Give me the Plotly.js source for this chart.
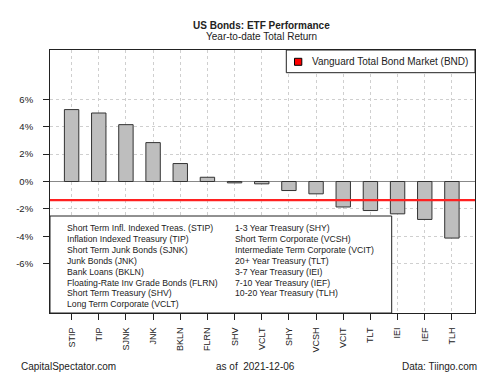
<!DOCTYPE html>
<html>
<head>
<meta charset="utf-8">
<script src="https://cdn.plot.ly/plotly-3.0.1.min.js"></script>
<style>html,body{margin:0;padding:0;background:#fff;}#chart{width:500px;height:375px;}</style>
</head>
<body>
<div id="chart"></div>
<script>
var tickers = ["STIP","TIP","SJNK","JNK","BKLN","FLRN","SHV","VCLT","SHY","VCSH","VCIT","TLT","IEI","IEF","TLH"];
var returns = [5.25, 5.00, 4.15, 2.84, 1.31, 0.31, -0.10, -0.17, -0.66, -0.90, -1.86, -2.12, -2.36, -2.77, -4.13];
var bndName = "Vanguard Total Bond Market (BND)";
var bndReturn = -1.36;
var namesCol1 = ["Short Term Infl. Indexed Treas. (STIP)","Inflation Indexed Treasury (TIP)","Short Term Junk Bonds (SJNK)","Junk Bonds (JNK)","Bank Loans (BKLN)","Floating-Rate Inv Grade Bonds (FLRN)","Short Term Treasury (SHV)","Long Term Corporate (VCLT)"];
var namesCol2 = ["1-3 Year Treasury (SHY)","Short Term Corporate (VCSH)","Intermediate Term Corporate (VCIT)","20+ Year Treasury (TLT)","3-7 Year Treasury (IEI)","7-10 Year Treasury (IEF)","10-20 Year Treasury (TLH)"];
var yTickVals = [-6,-4,-2,0,2,4,6];
var yTickText = ["-6%","-4%","-2%","0%","2%","4%","6%"];
var titleText = "US Bonds: ETF Performance";
var subtitleText = "Year-to-date Total Return";
var footLeft = "CapitalSpectator.com";
var footMid = "as of  2021-12-06";
var footRight = "Data: Tiingo.com";

var FONT = "Liberation Sans, Arial, sans-serif";
var TXT = "#222";
var W = 500, H = 375, ML = 50, MR = 25, MT = 50, MB = 62;
var PW = W - ML - MR, PH = H - MT - MB;
function px(x){ return (x - ML) / PW; }
function py(y){ return (H - MB - y) / PH; }

var traces = [{
  type: "bar", x: tickers, y: returns, width: 0.53,
  marker: {color: "#BEBEBE", line: {color: "#333", width: 1}},
  showlegend: false, hoverinfo: "x+y"
}];

var shapes = [
  {type: "line", xref: "paper", yref: "y", x0: 0, x1: 1, y0: bndReturn, y1: bndReturn,
   line: {color: "#FF2020", width: 2.2}, layer: "above"},
  {type: "rect", xref: "paper", yref: "paper", x0: px(286.3), x1: 1, y0: py(72.7), y1: 1,
   fillcolor: "#fff", line: {color: TXT, width: 1}, layer: "above"},
  {type: "rect", xref: "paper", yref: "paper", x0: px(294.5), x1: px(301.8), y0: py(65.3), y1: py(58.3),
   fillcolor: "#FF0000", line: {color: "#000", width: 1}, layer: "above"},
  {type: "rect", xref: "paper", yref: "paper", x0: 0, x1: px(391.7), y0: 0, y1: py(216),
   fillcolor: "#fff", line: {color: TXT, width: 1}, layer: "above"}
];

var annotations = [
  {text: "<b>" + titleText + "</b>", xref: "paper", yref: "paper", x: px(261), y: py(25.3), xanchor: "center", yanchor: "middle", showarrow: false, font: {family: FONT, size: 10, color: TXT}},
  {text: subtitleText, xref: "paper", yref: "paper", x: px(261), y: py(36.7), xanchor: "center", yanchor: "middle", showarrow: false, font: {family: FONT, size: 10, color: TXT}},
  {text: bndName, xref: "paper", yref: "paper", x: px(310), y: py(62), xanchor: "left", yanchor: "middle", showarrow: false, font: {family: FONT, size: 10, color: TXT}},
  {text: footLeft, xref: "paper", yref: "paper", x: px(19), y: py(366.7), xanchor: "left", yanchor: "middle", showarrow: false, font: {family: FONT, size: 10, color: TXT}},
  {text: footMid, xref: "paper", yref: "paper", x: px(214), y: py(366.7), xanchor: "left", yanchor: "middle", showarrow: false, font: {family: FONT, size: 10, color: TXT}},
  {text: footRight, xref: "paper", yref: "paper", x: px(478.5), y: py(366.7), xanchor: "right", yanchor: "middle", showarrow: false, font: {family: FONT, size: 10, color: TXT}}
];
namesCol1.forEach(function(t, i){
  annotations.push({text: t, xref: "paper", yref: "paper", x: px(64.7), y: py(228.3 + i * 10.86), xanchor: "left", yanchor: "middle", showarrow: false, font: {family: FONT, size: 8.7, color: TXT}});
});
namesCol2.forEach(function(t, i){
  annotations.push({text: t, xref: "paper", yref: "paper", x: px(233.3), y: py(228.3 + i * 10.86), xanchor: "left", yanchor: "middle", showarrow: false, font: {family: FONT, size: 8.7, color: TXT}});
});

var layout = {
  width: W, height: H,
  margin: {l: ML, r: MR, t: MT, b: MB, pad: 0},
  paper_bgcolor: "#fff", plot_bgcolor: "#fff",
  font: {family: FONT, size: 9, color: TXT},
  showlegend: false,
  bargap: 0.47,
  xaxis: {
    type: "category", range: [-0.795, 14.85],
    showline: true, mirror: true, linecolor: TXT, linewidth: 1,
    showgrid: true, gridcolor: "#cfcfcf", griddash: "dot", gridwidth: 1,
    ticks: "outside", ticklen: 6, tickcolor: TXT, tickangle: -90,
    tickfont: {family: FONT, size: 9, color: TXT}, ticklabelstandoff: 4,
    fixedrange: true
  },
  yaxis: {
    range: [-9.6, 9.6],
    tickvals: yTickVals, ticktext: yTickText,
    showline: true, mirror: true, linecolor: TXT, linewidth: 1,
    showgrid: true, gridcolor: "#cfcfcf", griddash: "dot", gridwidth: 1,
    zeroline: true, zerolinecolor: "#888", zerolinewidth: 1.2,
    ticks: "outside", ticklen: 6, tickcolor: TXT,
    tickfont: {family: FONT, size: 9.5, color: TXT}, ticklabelstandoff: 8,
    fixedrange: true
  },
  shapes: shapes,
  annotations: annotations
};

Plotly.newPlot("chart", traces, layout, {displayModeBar: false, staticPlot: true});
</script>
</body>
</html>
